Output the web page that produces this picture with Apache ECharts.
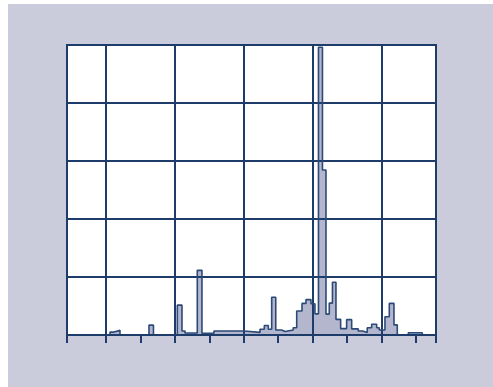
<!DOCTYPE html>
<html>
<head>
<meta charset="utf-8">
<script src="https://cdn.jsdelivr.net/npm/echarts@6/dist/echarts.min.js"></script>
<style>
html,body{margin:0;padding:0;background:#ffffff;}
#chart{width:493px;height:387px;}
</style>
</head>
<body>
<div id="chart"></div>
<script>
// Bin edges (x values) and histogram heights (one per bin)
const binEdges = [4.34, 10.58, 11.16, 12.03, 16.24, 16.89, 20.35, 21.03, 21.47, 23.25, 23.93, 25.67, 30.03,
  32.35, 32.98, 33.56, 34.05, 34.64, 35.50, 35.98, 37.18, 37.68, 38.45, 39.03, 39.75, 40.33, 40.84,
  41.42, 41.93, 42.41, 42.87, 43.38, 44.06, 44.93, 45.66, 46.62, 47.26, 47.92, 48.56, 49.29, 49.67,
  50.49, 51.12, 51.80, 52.28, 53.88, 55.91, 57.90];
const counts = [0, 1.0, 1.6, 0, 3.4, 0, 10.3, 1.4, 0.7, 22.3, 0.6, 1.4, 0.9, 2.0, 3.3, 2.0, 13.0, 1.7,
  1.2, 1.7, 2.5, 8.3, 10.9, 12.2, 10.8, 7.3, 99.2, 56.9, 7.2, 11.0, 18.2, 5.4, 2.2, 5.3, 2.1, 1.4, 0.9,
  2.5, 3.7, 2.5, 1.7, 6.3, 10.9, 3.5, 0, 0.8, 0];
const xMin = 4.34, xMax = 57.90;
const tickValues = [4.34, 10, 15, 20, 25, 30, 35, 40, 45, 50, 55, 57.90];
const yMin = 0, yMax = 100, yStep = 20;

const stepData = binEdges.map((e, i) => [e, counts[Math.min(i, counts.length - 1)]]);

const navy = '#1d3c6a';
const chart = echarts.init(document.getElementById('chart'), null, {renderer: 'canvas'});
chart.setOption({
  animation: false,
  backgroundColor: '#ffffff',
  graphic: [{
    type: 'rect', left: 8, top: 4, z: -10,
    shape: {width: 485, height: 383},
    style: {fill: '#caccdc'}
  }],
  grid: {left: 67, right: 57, top: 45, bottom: 52, show: true, backgroundColor: '#ffffff',
    borderColor: navy, borderWidth: 2},
  xAxis: [{
    type: 'value', min: xMin, max: xMax, z: 4,
    axisLine: {show: true, onZero: false, lineStyle: {color: navy, width: 2}},
    axisTick: {show: true, length: 8, customValues: tickValues, lineStyle: {color: navy, width: 2}},
    axisLabel: {show: false},
    splitLine: {show: false}
  }, {
    type: 'value', min: xMin, max: xMax, splitNumber: 5, z: 2, position: 'bottom',
    axisLine: {show: false}, axisTick: {show: false}, axisLabel: {show: false},
    splitLine: {show: true, lineStyle: {color: navy, width: 2}}
  }],
  yAxis: {
    type: 'value', min: yMin, max: yMax, interval: yStep, z: 2,
    axisLine: {show: true, lineStyle: {color: navy, width: 2}},
    axisTick: {show: false}, axisLabel: {show: false},
    splitLine: {show: true, lineStyle: {color: navy, width: 2}}
  },
  series: [{
    type: 'line', xAxisIndex: 0, step: 'end', data: stepData, symbol: 'none', z: 1,
    lineStyle: {width: 0, opacity: 0},
    areaStyle: {color: '#b3b6cc', opacity: 1}
  }, {
    type: 'line', xAxisIndex: 0, step: 'end', data: stepData, symbol: 'none', z: 3,
    lineStyle: {width: 1.6, color: '#2b4a78'}
  }]
});
</script>
</body>
</html>
